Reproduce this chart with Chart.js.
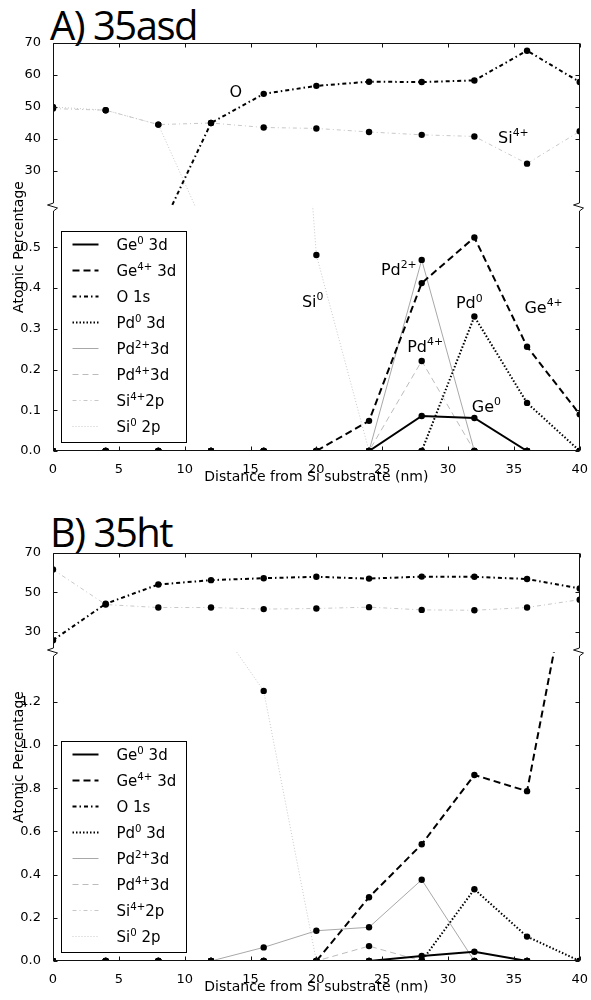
<!DOCTYPE html>
<html>
<head>
<meta charset="utf-8">
<script src="https://cdn.jsdelivr.net/npm/chart.js@4.4.1/dist/chart.umd.min.js"></script>
<style>
body { margin: 0; background: #fff; width: 591px; height: 1000px; position: relative; overflow: hidden; }
canvas { position: absolute; left: 0; }
#chartA { top: 0; }
#chartB { top: 500px; }
.title { position: absolute; left: 50px; font-family: 'Open Sans'; font-size: 40px; line-height: 40px; letter-spacing: -1.5px; color: #000; white-space: nowrap; }
</style>
</head>
<body>
<div class="title" style="top:5px">A) 35asd</div>
<div class="title" style="top:512px">B) 35ht</div>
<canvas id="chartA" width="591" height="489"></canvas>
<canvas id="chartB" width="591" height="500"></canvas>
<script>
// x positions (nm) and tick labels
const xValues = [0, 4, 8, 12, 16, 20, 24, 28, 32, 36, 40];
const xTicks = [0, 5, 10, 15, 20, 25, 30, 35, 40];

// legend names: base + superscript + tail
const seriesBase = ['Ge', 'Ge', 'O 1s', 'Pd', 'Pd', 'Pd', 'Si', 'Si'];
const seriesSup = ['0', '4+', '', '0', '2+', '4+', '4+', '0'];
const seriesTail = [' 3d', ' 3d', '', ' 3d', '3d', '3d', '2p', ' 2p'];

// A) 35asd
const ge0A = [0, 0, 0, 0, 0, 0, 0, 0.086, 0.081, 0, 0];
const ge4A = [0, 0, 0, 0, 0, 0, 0.074, 0.412, 0.524, 0.256, 0.090];
const oA = [10, 10, 10.2, 45, 54.1, 56.6, 57.9, 57.8, 58.3, 67.6, 57.8];
const pd0A = [0, 0, 0, 0, 0, 0, 0, 0, 0.330, 0.118, 0];
const pd2A = [0, 0, 0, 0, 0, 0, 0, 0.469, 0, 0, 0];
const pd4A = [0, 0, 0, 0, 0, 0, 0, 0.221, 0, 0, 0];
const si4A = [49.5, 49, 44.5, 45, 43.6, 43.3, 42.2, 41.3, 40.8, 32.3, 42.4];
const si0A = [50, 49, 44.5, 8, 2.2, 0.481, 0, 0, 0, 0, 0];

// B) 35ht
const ge0B = [0, 0, 0, 0, 0, 0, 0, 0.023, 0.043, 0, 0];
const ge4B = [0, 0, 0, 0, 0, 0, 0.295, 0.54, 0.861, 0.786, 2.05];
const oB = [25.7, 44.2, 54, 56.2, 57.2, 57.9, 57, 58, 57.9, 56.8, 52];
const pd0B = [0, 0, 0, 0, 0, 0, 0, 0, 0.332, 0.113, 0];
const pd2B = [0, 0, 0, 0, 0.063, 0.14, 0.156, 0.376, 0, 0, 0];
const pd4B = [0, 0, 0, 0, 0, 0, 0.069, 0, 0, 0, 0];
const si4B = [61.6, 43.8, 42.3, 42.3, 41.5, 41.8, 42.5, 41.1, 40.9, 42.3, 46.3];
const si0B = [null, null, null, 1.6, 1.25, 0, 0, 0, 0, 0, 0];

// y tick labels of the broken axes
const topTicksA = [30, 40, 50, 60, 70];
const lowTicksA = [0, 0.1, 0.2, 0.3, 0.4, 0.5];
const topTicksB = [30, 40, 50, 60, 70];
const lowTicksB = [0, 0.2, 0.4, 0.6, 0.8, 1.0, 1.2];

// text labels inside panel A
const notesA = [
  {base: 'O', sup: '', axis: 'yTop', x: 13.4, y: 53.1},
  {base: 'Si', sup: '4+', axis: 'yTop', x: 33.8, y: 38.8},
  {base: 'Si', sup: '0', axis: 'yLow', x: 18.9, y: 0.353},
  {base: 'Pd', sup: '2+', axis: 'yLow', x: 24.9, y: 0.432},
  {base: 'Pd', sup: '0', axis: 'yLow', x: 30.6, y: 0.350},
  {base: 'Ge', sup: '4+', axis: 'yLow', x: 35.8, y: 0.339},
  {base: 'Pd', sup: '4+', axis: 'yLow', x: 26.9, y: 0.244},
  {base: 'Ge', sup: '0', axis: 'yLow', x: 31.8, y: 0.096}
];

// line styles
const lineColors = ['#000', '#000', '#000', '#000', '#a8a8a8', '#bcbcbc', '#c8c8c8', '#c8c8c8'];
const lineWidths = [2, 2, 2, 2, 1, 1, 1, 1];
const lineDashes = [[], [7, 4], [4, 3, 1.5, 3], [1.5, 2], [], [6, 4], [4, 3, 1, 3], [1, 2]];

Chart.defaults.font.family = "'DejaVu Sans'";
Chart.defaults.color = '#000';

function drawSup(ctx, base, sup, tail, x, y, size) {
  ctx.textAlign = 'left';
  ctx.textBaseline = 'alphabetic';
  ctx.font = size + "px 'DejaVu Sans'";
  ctx.fillText(base, x, y);
  x += ctx.measureText(base).width;
  if (sup) {
    ctx.font = (size * 0.68) + "px 'DejaVu Sans'";
    ctx.fillText(sup, x, y - size * 0.42);
    x += ctx.measureText(sup).width;
  }
  if (tail) {
    ctx.font = size + "px 'DejaVu Sans'";
    ctx.fillText(tail, x, y);
  }
}

const brokenAxisPlugin = {
  id: 'brokenAxis',
  beforeDatasetDraw(chart, args) {
    const ys = args.meta.yScale, a = chart.chartArea, ctx = chart.ctx;
    ctx.save();
    ctx.beginPath();
    ctx.rect(a.left, ys.top, a.right - a.left, ys.bottom - ys.top);
    ctx.clip();
  },
  afterDatasetDraw(chart) {
    chart.ctx.restore();
  },
  afterDraw(chart, args, opts) {
    const ctx = chart.ctx, a = chart.chartArea;
    const sx = chart.scales.x, yt = chart.scales.yTop, yl = chart.scales.yLow;
    const L = Math.round(a.left) + 0.5, R = Math.round(a.right) - 0.5;
    const T = Math.round(a.top) + 0.5, B = Math.round(a.bottom) - 0.5;
    const yb = Math.round(yt.bottom);
    ctx.save();
    ctx.strokeStyle = '#111';
    ctx.lineWidth = 1;
    ctx.beginPath();
    [L, R].forEach(X => {
      ctx.moveTo(X, T);
      ctx.lineTo(X, yb - 4);
      ctx.lineTo(X - 6, yb - 2);
      ctx.lineTo(X + 4, yb + 1);
      ctx.lineTo(X, yb + 4);
      ctx.lineTo(X, B);
    });
    ctx.moveTo(L, T); ctx.lineTo(R, T);
    ctx.moveTo(L, B); ctx.lineTo(R, B);
    xTicks.forEach(v => {
      const px = Math.round(sx.getPixelForValue(v)) + 0.5;
      ctx.moveTo(px, T); ctx.lineTo(px, T + 4);
      ctx.moveTo(px, B); ctx.lineTo(px, B - 4);
    });
    [yt, yl].forEach(s => {
      s.ticks.forEach(t => {
        const py = Math.round(s.getPixelForValue(t.value)) + 0.5;
        ctx.moveTo(L, py); ctx.lineTo(L + 4, py);
        ctx.moveTo(R, py); ctx.lineTo(R - 4, py);
      });
    });
    ctx.stroke();

    // y axis label
    ctx.save();
    ctx.translate(19, (a.top + a.bottom) / 2);
    ctx.rotate(-Math.PI / 2);
    ctx.textAlign = 'center';
    ctx.textBaseline = 'middle';
    ctx.font = "14px 'DejaVu Sans'";
    ctx.fillStyle = '#000';
    ctx.fillText('Atomic Percentage', 0, 0);
    ctx.restore();

    // labels near the curves
    ctx.fillStyle = '#000';
    (opts.notes || []).forEach(n => {
      const px = sx.getPixelForValue(n.x);
      const py = chart.scales[n.axis].getPixelForValue(n.y);
      drawSup(ctx, n.base, n.sup, '', px, py, 16);
    });

    // legend box, lower left of the lower part
    const bw = 125, bh = 211;
    const bx = Math.round(a.left) + 8.5, by = Math.round(a.bottom) - 8.5 - bh;
    ctx.fillStyle = '#fff';
    ctx.fillRect(bx, by, bw, bh);
    ctx.strokeStyle = '#000';
    ctx.lineWidth = 1;
    ctx.strokeRect(bx, by, bw, bh);
    seriesBase.forEach((name, i) => {
      const cy = by + 13 + i * 26;
      ctx.beginPath();
      ctx.setLineDash(lineDashes[i]);
      ctx.strokeStyle = lineColors[i];
      ctx.lineWidth = lineWidths[i];
      ctx.moveTo(bx + 11, cy);
      ctx.lineTo(bx + 37, cy);
      ctx.stroke();
      ctx.setLineDash([]);
      ctx.fillStyle = '#000';
      drawSup(ctx, name, seriesSup[i], seriesTail[i], bx + 55, cy + 5.5, 15);
    });
    ctx.restore();
  }
};

function makeChart(id, series, cfg) {
  const datasets = [];
  series.forEach((vals, i) => {
    ['yTop', 'yLow'].forEach(axis => {
      datasets.push({
        label: seriesBase[i] + seriesSup[i] + seriesTail[i],
        data: xValues.map((x, j) => ({x: x, y: vals[j]})),
        yAxisID: axis,
        borderColor: lineColors[i],
        borderWidth: lineWidths[i],
        borderDash: lineDashes[i],
        pointRadius: 3.2,
        pointHoverRadius: 3.2,
        pointBackgroundColor: '#000',
        pointBorderColor: '#000',
        pointBorderWidth: 0,
        tension: 0,
        spanGaps: false,
        fill: false
      });
    });
  });

  return new Chart(document.getElementById(id), {
    type: 'line',
    data: {datasets: datasets},
    plugins: [brokenAxisPlugin],
    options: {
      responsive: false,
      animation: false,
      devicePixelRatio: 1,
      events: [],
      layout: {padding: {left: 0, right: 10, top: cfg.padTop, bottom: cfg.padBottom}},
      plugins: {
        legend: {display: false},
        tooltip: {enabled: false},
        brokenAxis: {notes: cfg.notes}
      },
      scales: {
        x: {
          type: 'linear', min: 0, max: 40,
          grid: {display: false}, border: {display: false},
          afterBuildTicks: s => { s.ticks = xTicks.map(v => ({value: v})); },
          afterFit: s => { s.height = 38; },
          ticks: {padding: 3, font: {size: 13}, maxRotation: 0, autoSkip: false, callback: v => String(v)},
          title: {display: true, text: 'Distance from Si substrate (nm)', font: {size: 14}, padding: {top: 0, bottom: 3}}
        },
        yTop: {
          type: 'linear', position: 'left', stack: 'p', stackWeight: cfg.topWeight, weight: 2,
          min: cfg.topMin, max: 70,
          grid: {display: false}, border: {display: false},
          afterBuildTicks: s => { s.ticks = cfg.topTicks.map(v => ({value: v})); },
          afterFit: s => { s.width = 53; },
          ticks: {padding: 4, font: {size: 13}, callback: v => String(v)}
        },
        yLow: {
          type: 'linear', position: 'left', stack: 'p', stackWeight: cfg.lowWeight, weight: 1,
          min: 0, max: cfg.lowMax,
          grid: {display: false}, border: {display: false},
          afterBuildTicks: s => { s.ticks = cfg.lowTicks.map(v => ({value: v})); },
          afterFit: s => { s.width = 53; },
          ticks: {padding: 4, font: {size: 13}, callback: v => Number(v).toFixed(1)}
        }
      }
    }
  });
}

makeChart('chartA', [ge0A, ge4A, oA, pd0A, pd2A, pd4A, si4A, si0A], {
  padTop: 43, padBottom: 0, topWeight: 163.5, lowWeight: 244.5,
  topMin: 18.9, lowMax: 0.600, topTicks: topTicksA, lowTicks: lowTicksA, notes: notesA
});
makeChart('chartB', [ge0B, ge4B, oB, pd0B, pd2B, pd4B, si4B, si0B], {
  padTop: 53, padBottom: 1, topWeight: 99, lowWeight: 309,
  topMin: 19.7, lowMax: 1.43, topTicks: topTicksB, lowTicks: lowTicksB, notes: []
});
</script>
</body>
</html>
